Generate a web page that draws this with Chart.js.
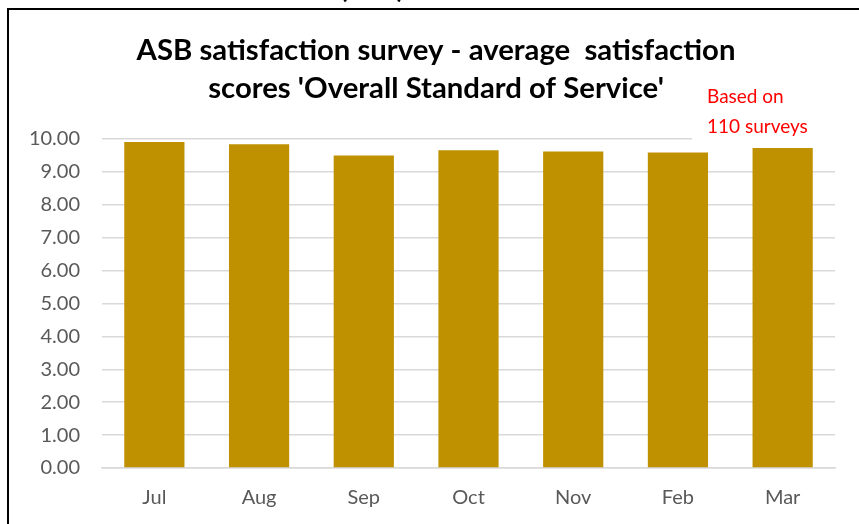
<!DOCTYPE html>
<html>
<head>
<meta charset="utf-8">
<script src="https://cdn.jsdelivr.net/npm/chart.js@4.4.0/dist/chart.umd.min.js"></script>
<style>
  html, body { margin: 0; padding: 0; background: #fff; }
  #wrap { position: relative; width: 859px; height: 524px; }
</style>
</head>
<body>
<div id="wrap"><canvas id="asbChart" width="859" height="524"></canvas></div>
<script>
    // Месяцы и средние оценки
    const months = ['Jul', 'Aug', 'Sep', 'Oct', 'Nov', 'Feb', 'Mar'];
    const avgScores = [9.91, 9.84, 9.50, 9.66, 9.62, 9.59, 9.73];
    const titleLines = ['ASB satisfaction survey - average  satisfaction', "scores 'Overall Standard of Service'"];
    const noteLines = ['Based on', '110 surveys'];

    const fontFamily = 'Lato, "Open Sans", sans-serif';

    // Рамка, заголовок и пометка о числе анкет
    const decorPlugin = {
        id: 'decor',
        afterDraw(chart) {
            const ctx = chart.ctx;
            ctx.save();

            // обрезанная подпись сверху
            ctx.fillStyle = '#000';
            ctx.font = 'bold 26px ' + fontFamily;
            ctx.textAlign = 'center';
            ctx.textBaseline = 'alphabetic';
            ctx.fillText('(ASB)', 372, -2);

            // рамка
            ctx.strokeStyle = '#000';
            ctx.lineWidth = 2;
            ctx.beginPath();
            ctx.moveTo(8, 524);
            ctx.lineTo(8, 9);
            ctx.lineTo(859, 9);
            ctx.stroke();

            // заголовок
            ctx.font = 'bold 29.3px ' + fontFamily;
            ctx.textBaseline = 'middle';
            ctx.fillText(titleLines[0], 436, 51);
            ctx.fillText(titleLines[1], 436, 89);

            // белая подложка под пометкой
            ctx.fillStyle = '#fff';
            ctx.fillRect(692, 78, 150, 64);

            ctx.fillStyle = '#ff0000';
            ctx.font = '19px ' + fontFamily;
            ctx.textAlign = 'left';
            ctx.fillText(noteLines[0], 707, 97);
            ctx.fillText(noteLines[1], 707, 127);
            ctx.restore();
        }
    };

    new Chart(document.getElementById('asbChart'), {
        type: 'bar',
        data: {
            labels: months,
            datasets: [{
                data: avgScores,
                backgroundColor: '#bf9000',
                borderWidth: 0,
                categoryPercentage: 1,
                barPercentage: 0.575
            }]
        },
        options: {
            responsive: false,
            animation: false,
            layout: {
                padding: { left: 12, right: 24, top: 139, bottom: 0 }
            },
            plugins: {
                legend: { display: false },
                title: { display: false },
                tooltip: { enabled: false }
            },
            scales: {
                y: {
                    min: 0,
                    max: 10,
                    ticks: {
                        stepSize: 1,
                        padding: 22,
                        color: '#595959',
                        font: { family: fontFamily, size: 20 },
                        callback: v => v.toFixed(2)
                    },
                    grid: {
                        color: '#d9d9d9',
                        lineWidth: 1.5,
                        drawTicks: false
                    },
                    border: { display: false },
                    afterFit(scale) { scale.width = 90; }
                },
                x: {
                    ticks: {
                        padding: 18,
                        color: '#595959',
                        font: { family: fontFamily, size: 20 }
                    },
                    grid: { display: false, drawTicks: false },
                    border: { color: '#d9d9d9', width: 1.5 },
                    afterFit(scale) { scale.height = 56; }
                }
            }
        },
        plugins: [decorPlugin]
    });
</script>
</body>
</html>
